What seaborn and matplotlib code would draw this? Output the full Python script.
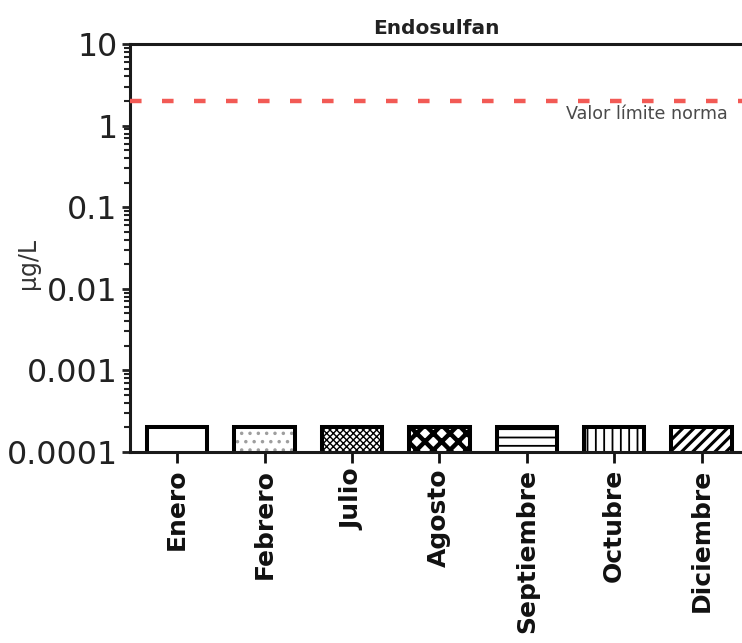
import matplotlib
matplotlib.use("Agg")
import matplotlib.pyplot as plt
from matplotlib.ticker import LogLocator, FixedLocator, FixedFormatter, NullFormatter
import seaborn as sns
import pandas as pd

# Monthly endosulfan concentrations (µg/L) and the regulatory limit
meses = ["Enero", "Febrero", "Julio", "Agosto", "Septiembre", "Octubre", "Diciembre"]
valores = [0.0002, 0.0002, 0.0002, 0.0002, 0.0002, 0.0002, 0.0002]
limite = 2.0
ytick_vals = [0.0001, 0.001, 0.01, 0.1, 1, 10]
ytick_labels = ["0.0001", "0.001", "0.01", "0.1", "1", "10"]

# Fill pattern for each month's bar
tramas = ["", "..", "xxxxx", "xx", "--", "||", "///"]

sns.set_style("ticks")
plt.rcParams["font.family"] = ["DejaVu Sans"]
plt.rcParams["hatch.linewidth"] = 1.3

df = pd.DataFrame({"mes": meses, "valor": valores})

fig = plt.figure(figsize=(7.42, 6.43), dpi=100)
ax = fig.add_axes([130 / 742, 1 - 452 / 643, 1 - 130 / 742 + 0.002, (452 - 44) / 643])

sns.barplot(data=df, x="mes", y="valor", color="white", edgecolor="black",
            linewidth=2.9, width=0.69, saturation=1, ax=ax)
ax.set_yscale("log")
ax.set_ylim(ytick_vals[0], ytick_vals[-1])
ax.set_xlim(-0.54, 6.48)

for p, t in zip(ax.patches, tramas):
    p.set_facecolor("white")
    p.set_hatch(t)
    if t == "..":
        p._hatch_color = (0.62, 0.62, 0.62, 1.0)
    if hasattr(p, "set_hatch_linewidth"):
        if t == "xx":
            p.set_hatch_linewidth(3.2)
        elif t == "xxxxx":
            p.set_hatch_linewidth(1.0)
        elif t == "///":
            p.set_hatch_linewidth(2.2)

# Limit value line
ax.axhline(limite, color="#f25a55", lw=3.2, dashes=(2.6, 4.6), zorder=3)
ax.text(0.975, 1.78, "Valor límite norma", transform=ax.get_yaxis_transform(),
        ha="right", va="top", fontsize=12.6, color="#4a4a4a")

# Axes styling
ax.yaxis.set_major_locator(FixedLocator(ytick_vals))
ax.yaxis.set_major_formatter(FixedFormatter(ytick_labels))
ax.yaxis.set_minor_locator(LogLocator(base=10, subs=range(2, 10), numticks=20))
ax.yaxis.set_minor_formatter(NullFormatter())
ax.tick_params(axis="y", which="major", length=6, width=2.0, labelsize=22.8,
               colors="#222222", pad=3)
ax.tick_params(axis="y", which="minor", length=4, width=1.5, colors="#222222")
ax.tick_params(axis="x", which="major", length=8, width=2.0, labelsize=18,
               colors="#111111", pad=4)
plt.setp(ax.get_xticklabels(), rotation=90, fontweight="bold")

for side in ["left", "bottom", "top"]:
    ax.spines[side].set_linewidth(2.2)
    ax.spines[side].set_color("#1a1a1a")
ax.spines["right"].set_visible(False)

ax.set_xlabel("")
ax.set_ylabel("µg/L", fontsize=17, color="#333333")
ax.yaxis.set_label_coords(-0.146, 0.462)
ax.set_title("Endosulfan", fontsize=14.5, fontweight="bold", color="#222222", pad=7)

fig.savefig("out.png", dpi=100)
